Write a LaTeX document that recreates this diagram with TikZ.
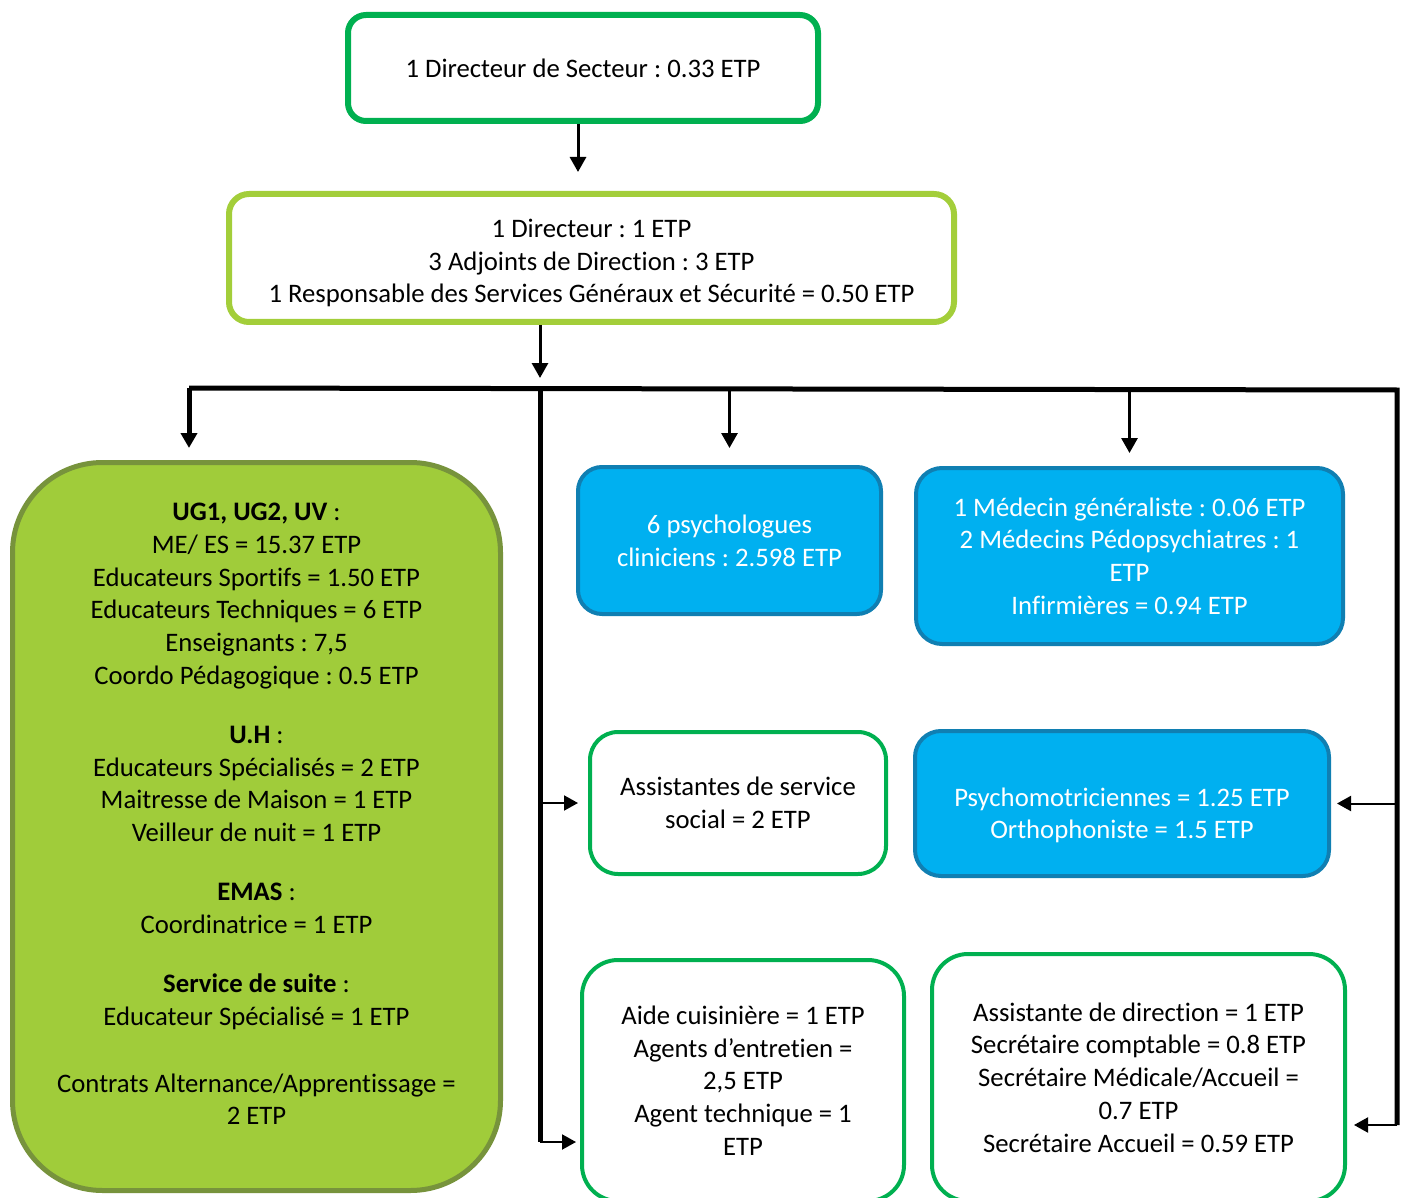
\documentclass[tikz,border=0pt]{standalone}
\usepackage{fontspec}
\setmainfont{Carlito}[Ligatures=NoCommon]
\usepackage{tikz}
\usetikzlibrary{arrows.meta}
\frenchspacing
\definecolor{sectgreen}{RGB}{0,176,80}
\definecolor{dirgreen}{RGB}{163,206,58}
\definecolor{ugfill}{RGB}{160,204,58}
\definecolor{ugline}{RGB}{119,147,60}
\definecolor{bluefill}{RGB}{0,176,240}
\definecolor{blueline}{RGB}{16,127,178}
\tikzset{
  box/.style={rectangle, rounded corners=#1, align=center, inner sep=0pt,
    font=\fontsize{26.7}{32.7}\selectfont},
  box/.default=20,
  txt/.style={align=center, inner sep=0pt, font=\fontsize{26.7}{32.7}\selectfont},
  bluebox/.style={box=#1, draw=blueline, fill=bluefill, line width=4pt, text=white},
  wbox/.style={box=#1, draw=sectgreen, fill=white, line width=4pt},
  bus/.style={line width=5pt, line join=miter},
  arr/.style={line width=3pt, -{Triangle[length=15pt,width=16pt]}},
  side/.style={line width=2pt, -{Triangle[length=14pt,width=15pt]}}
}
\begin{document}
\begin{tikzpicture}[x=1pt,y=-1pt]
\useasboundingbox (0,0) rectangle (1411,1198);
% direction
\node[box=18, draw=sectgreen, line width=6pt, minimum width=470, minimum height=106] (sect) at (583,68)
  {1 Directeur de Secteur : 0.33 ETP};
\node[box=20, draw=dirgreen, line width=6pt, minimum width=725, minimum height=128] (dir) at (591.5,258) {};
\node[txt] (dirtxt) at ([yshift=-5pt]dir.center)
  {1 Directeur : 1 ETP\\3 Adjoints de Direction : 3 ETP\\1 Responsable des Services Généraux et Sécurité = 0.50 ETP};
%
\node[box=90, draw=ugline, fill=ugfill, line width=5pt, minimum width=488, minimum height=728] (ug) at (256.5,826.5) {};
\node[txt] (ugtxt) at ([yshift=12.5pt]ug.center)
  {\textbf{UG1, UG2, UV} :\\ME/ ES = 15.37 ETP\\Educateurs Sportifs = 1.50 ETP\\Educateurs Techniques = 6 ETP\\
   Enseignants : 7,5\\Coordo Pédagogique : 0.5 ETP\\[26.5pt]
   \textbf{U.H} :\\Educateurs Spécialisés = 2 ETP\\Maitresse de Maison = 1 ETP\\Veilleur de nuit = 1 ETP\\[26.5pt]
   \textbf{EMAS} :\\Coordinatrice = 1 ETP\\[26.5pt]
   \textbf{Service de suite} :\\Educateur Spécialisé = 1 ETP\\[34pt]
   Contrats Alternance/Apprentissage =\\2 ETP};
%
\node[bluebox=24, minimum width=303, minimum height=147] (psych) at (729.5,540.5)
  {6 psychologues\\cliniciens : 2.598 ETP};
\node[bluebox=26, minimum width=427, minimum height=176] (med) at (1129.5,556)
  {1 Médecin généraliste : 0.06 ETP\\2 Médecins Pédopsychiatres : 1\\ETP\\Infirmières = 0.94 ETP};
\node[wbox=28, minimum width=296, minimum height=142] (ass) at (738,803)
  {Assistantes de service\\social = 2 ETP};
\node[bluebox=26, minimum width=414, minimum height=145] (pm) at (1122,803.5) {};
\node[txt, text=white] (pmtxt) at ([yshift=-12pt]pm.center)
  {Psychomotriciennes = 1.25 ETP\\Orthophoniste = 1.5 ETP};
\node[wbox=36, minimum width=322, minimum height=241] (aide) at (743,1080.5)
  {Aide cuisinière = 1 ETP\\Agents d’entretien =\\2,5 ETP\\Agent technique = 1\\ETP};
\node[wbox=36, minimum width=413, minimum height=247] (secr) at (1138.5,1077.5)
  {Assistante de direction = 1 ETP\\Secrétaire comptable = 0.8 ETP\\Secrétaire Médicale/Accueil =\\0.7 ETP\\Secrétaire Accueil = 0.59 ETP};
%
\coordinate (busL) at (189,388);
\coordinate (busM) at (540,388);
\coordinate (busR) at (1397,390);
\coordinate (midEnd) at (540,1142);
\coordinate (rightEnd) at (1397,1125);
\draw[bus] (busL) -- (busR) -- (rightEnd);
\draw[bus] (busM) -- (midEnd);
%
\draw[arr, shorten >=19pt] (sect.south -| 578,0) -- (dir.north -| 578,0);
\draw[arr, shorten >=10pt] (dir.south -| busM) -- (busM);
\draw[arr, line width=5pt, shorten >=12pt] (busL) -- (busL |- ug.north);
\draw[arr, shorten >=17pt] (psych.north |- busL) -- (psych.north);
\draw[arr, shorten >=13pt] (med.north |- busL) -- (med.north);
\draw[side, shorten >=10pt] (busM |- ass.west) -- (ass.west);
\draw[side, shorten >=4pt] (midEnd) -- (midEnd -| aide.west);
\draw[side, shorten >=6pt] (busR |- pm.east) -- (pm.east);
\draw[side, shorten >=7pt] (rightEnd) -- (rightEnd -| secr.east);
\end{tikzpicture}
\end{document}
